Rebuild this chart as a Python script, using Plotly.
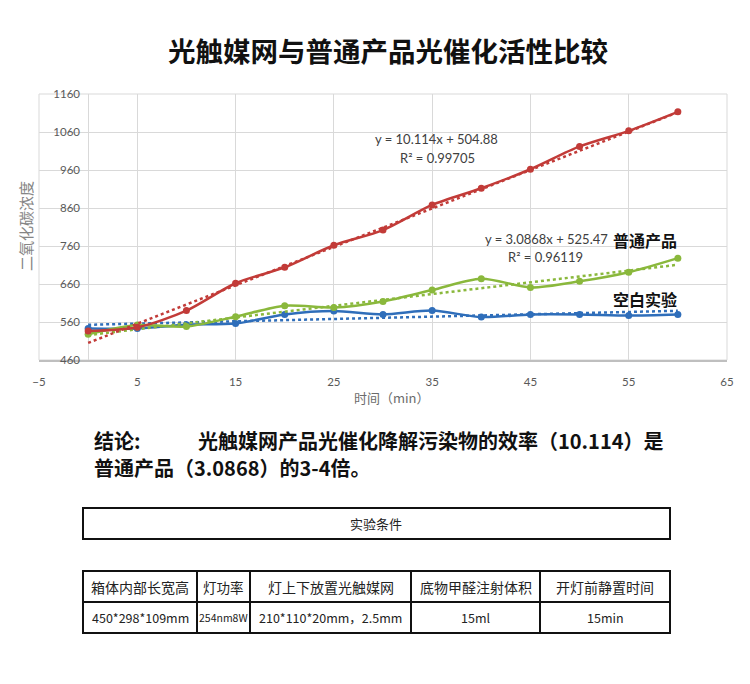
import numpy as np
import plotly.graph_objects as go

# 数据 (时间 min, 二氧化碳浓度)
minutes = [0, 5, 10, 15, 20, 25, 30, 35, 40, 45, 50, 55, 60]
photocat = [536, 546, 590, 662, 704, 762, 802, 868, 912, 962, 1022, 1063, 1113]
normal = [528, 552, 548, 574, 603, 598, 614, 644, 674, 651, 667, 691, 728]
blank = [543, 543, 553, 556, 580, 589, 580, 590, 573, 580, 580, 577, 580]

# 趋势线系数 (图中公式)
photocat_fit = [10.114, 504.88]
normal_fit = [3.0868, 525.47]
blank_fit = list(np.polyfit(minutes, blank, 1))

eq_texts = ['y = 10.114x + 504.88', 'R² = 0.99705', 'y = 3.0868x + 525.47', 'R² = 0.96119']

conclusion_head = '结论:'
conclusion_1 = '光触媒网产品光催化降解污染物的效率（10.114）是'
conclusion_2 = '普通产品（3.0868）的3-4倍。'

table_title = '实验条件'
table_header = ['箱体内部长宽高', '灯功率', '灯上下放置光触媒网', '底物甲醛注射体积', '开灯前静置时间']
table_values = ['450*298*109mm', '254nm8W', '210*110*20mm，2.5mm', '15ml', '15min']

OFF = 8  # 页面默认边距
W, H = 750 - OFF, 684 - OFF
L, R, T, B = 39, 727, 94, 360  # 绘图区像素边界 (参考图坐标)


def px(x):
    return (x - L) / (R - L)


def py(y):
    return (B - y) / (B - T)


fig = go.Figure()

series = [
    (blank, blank_fit, '#2F6EBA', '空白实验'),
    (normal, normal_fit, '#8AB83C', '普通产品'),
    (photocat, photocat_fit, '#C23B38', '光触媒网'),
]
x_trend = [minutes[0], minutes[-1]]
for vals, fit, color, name in series:
    fig.add_trace(go.Scatter(
        x=minutes, y=vals, mode='lines+markers', name=name,
        line={'color': color, 'width': 2.5, 'shape': 'spline', 'smoothing': 0.8},
        marker={'color': color, 'size': 7},
    ))
    fig.add_trace(go.Scatter(
        x=x_trend, y=[fit[0] * v + fit[1] for v in x_trend], mode='lines',
        line={'color': color, 'width': 2.5, 'dash': 'dot'}, showlegend=False,
    ))

grid = '#d9d9d9'
tick_font = {'family': 'Lato, sans-serif', 'size': 11.5, 'color': '#595959'}

fig.update_layout(
    width=W, height=H, autosize=False,
    margin={'l': L - OFF, 'r': 750 - R, 't': T - OFF, 'b': 684 - B, 'pad': 0},
    plot_bgcolor='white', paper_bgcolor='white',
    showlegend=False,
    xaxis={'range': [-5, 65], 'tick0': -5, 'dtick': 10, 'showgrid': True, 'gridcolor': grid,
           'zeroline': True, 'zerolinecolor': grid, 'zerolinewidth': 1,
           'showline': True, 'linecolor': '#bfbfbf', 'linewidth': 1.5, 'mirror': False,
           'tickfont': tick_font, 'ticks': '', 'ticklabelstandoff': 10},
    yaxis={'range': [460, 1160], 'tick0': 460, 'dtick': 100, 'showgrid': True, 'gridcolor': grid,
           'zeroline': False, 'anchor': 'free', 'position': px(88), 'showline': False,
           'tickfont': tick_font, 'ticks': '', 'ticklabelstandoff': 8},
)

# 边框 (绘图区)
fig.add_shape(type='rect', xref='paper', yref='paper', x0=0, y0=0, x1=1, y1=1,
              line={'color': grid, 'width': 1}, layer='below')

cjk = 'Noto Sans CJK SC'
ann = []
ann.append(dict(text='<b>光触媒网与普通产品光催化活性比较</b>', x=px(388), y=py(50),
                font={'family': cjk, 'size': 27.5, 'color': '#111111'}))
ann.append(dict(text='时间（min）', x=px(392), y=py(397),
                font={'family': cjk, 'size': 13, 'color': '#6b6b6b'}))
ann.append(dict(text='二氧化碳浓度', x=px(25), y=py(226), textangle=-90,
                font={'family': cjk, 'size': 15, 'color': '#858585'}))
eq_font = {'family': 'Lato, sans-serif', 'size': 13, 'color': '#404040'}
ann.append(dict(text=eq_texts[0], x=px(436), y=py(139), font=eq_font))
ann.append(dict(text=eq_texts[1], x=px(437), y=py(158), font=eq_font))
ann.append(dict(text=eq_texts[2], x=px(546), y=py(239), font=eq_font))
ann.append(dict(text=eq_texts[3], x=px(545), y=py(257), font=eq_font))
lab_font = {'family': cjk, 'size': 16, 'color': '#111111'}
ann.append(dict(text='<b>普通产品</b>', x=px(645), y=py(240), font=lab_font))
ann.append(dict(text='<b>空白实验</b>', x=px(645), y=py(299), font=lab_font))

# 结论
con_font = {'family': cjk, 'size': 20, 'color': '#111111'}
ann.append(dict(text='<b>' + conclusion_head + '</b>', x=px(92), y=py(440), xanchor='left', font=con_font))
ann.append(dict(text='<b>' + conclusion_1 + '</b>', x=px(196), y=py(440), xanchor='left', font=con_font))
ann.append(dict(text='<b>' + conclusion_2 + '</b>', x=px(92), y=py(467), xanchor='left', font=con_font))

# 实验条件 表格
cell_font = {'family': cjk, 'size': 13, 'color': '#222222'}
fig.add_shape(type='rect', xref='paper', yref='paper', x0=px(83), x1=px(670), y0=py(508), y1=py(539),
              line={'color': '#111111', 'width': 2})
ann.append(dict(text=table_title, x=px(376), y=py(523.5), font=cell_font))

col_edges = [83, 197, 250, 411, 540, 670]
row_edges = [571, 602, 633]
for r, row in enumerate([table_header, table_values]):
    for c, txt in enumerate(row):
        fig.add_shape(type='rect', xref='paper', yref='paper',
                      x0=px(col_edges[c]), x1=px(col_edges[c + 1]),
                      y0=py(row_edges[r]), y1=py(row_edges[r + 1]),
                      line={'color': '#111111', 'width': 2})
        size = (14 if c != 1 else 13.5) if r == 0 else (10.5 if c == 1 else 12.5)
        ann.append(dict(text=txt, x=px((col_edges[c] + col_edges[c + 1]) / 2),
                        y=py((row_edges[r] + row_edges[r + 1]) / 2),
                        font=dict(cell_font, size=size)))

for a in ann:
    a.setdefault('xanchor', 'center')
    fig.add_annotation(xref='paper', yref='paper', showarrow=False, yanchor='middle', **a)

fig.write_html("out.html")
